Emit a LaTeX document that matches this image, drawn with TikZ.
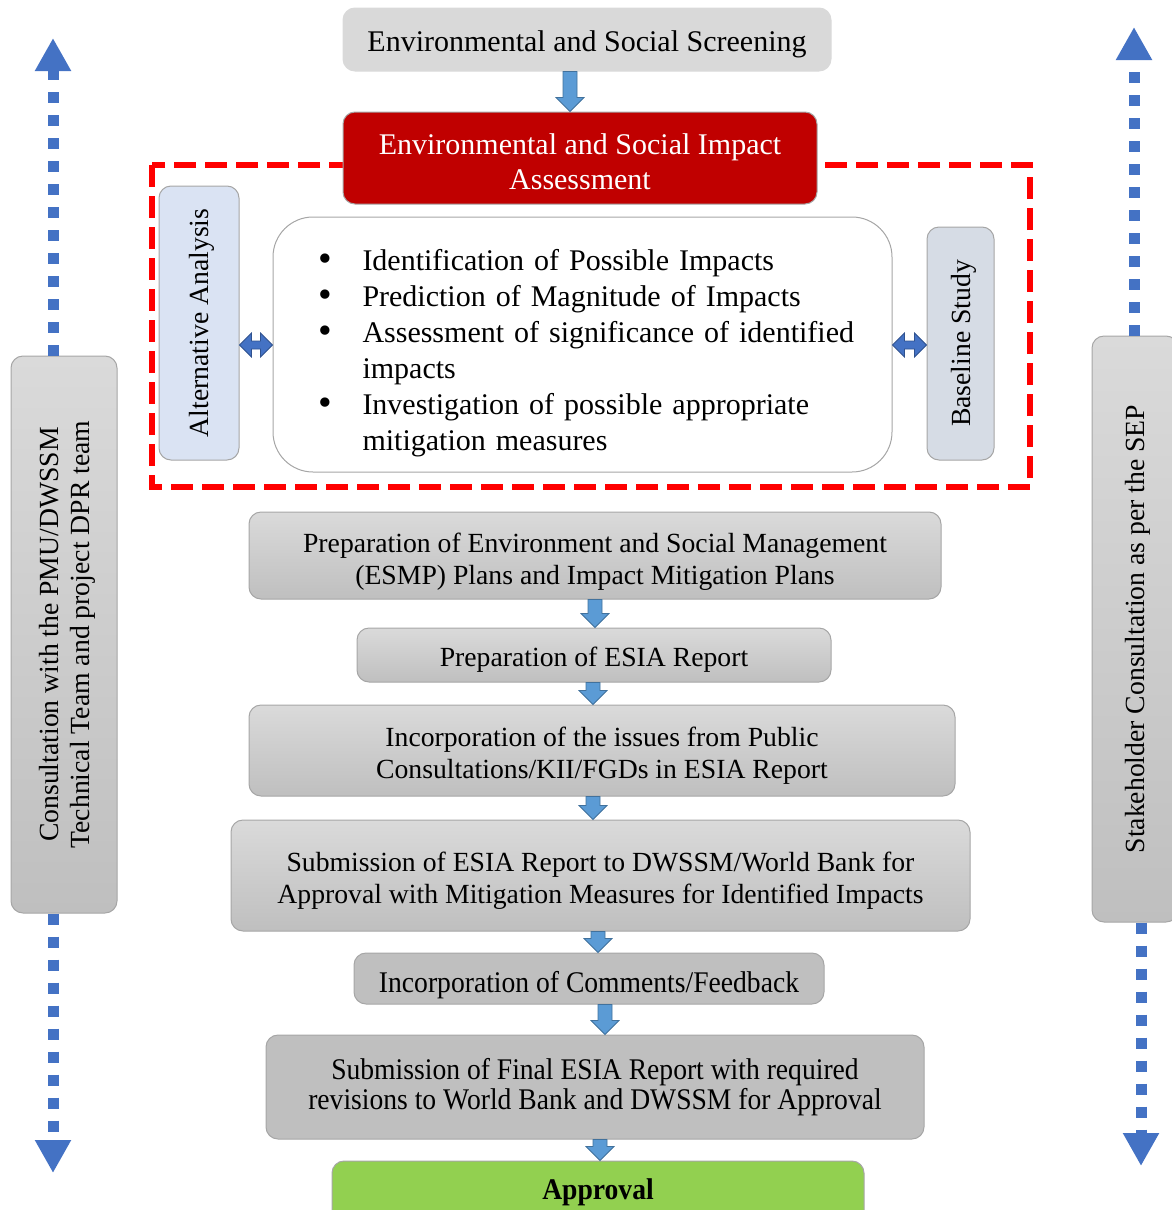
\documentclass[tikz,border=0pt]{standalone}
\usepackage{fontspec}
\usepackage{graphicx}
\setmainfont{Liberation Serif}
\newfontfamily\narrowserif[FakeStretch=0.92]{Liberation Serif}
\usetikzlibrary{calc,arrows.meta}

\definecolor{screengray}{HTML}{D9D9D9}
\definecolor{esiared}{HTML}{C00000}
\definecolor{boxedge}{HTML}{A6A6A6}
\definecolor{altblue}{HTML}{DAE3F3}
\definecolor{baseblue}{HTML}{D6DCE5}
\definecolor{steptop}{HTML}{DADADA}
\definecolor{stepbot}{HTML}{BFBFBF}
\definecolor{flatgray}{HTML}{BFBFBF}
\definecolor{okgreen}{HTML}{92D050}
\definecolor{flowblue}{HTML}{5B9BD5}
\definecolor{flowedge}{HTML}{41719C}
\definecolor{linkblue}{HTML}{4472C4}
\definecolor{linkedge}{HTML}{2F528F}

\tikzset{
  box/.style={draw=boxedge, line width=1pt, rounded corners=12pt, inner sep=0pt, align=center},
  stepbox/.style={box, top color=steptop, bottom color=stepbot,
    font=\fontsize{27.7}{32}\selectfont},
  flatbox/.style={box, fill=flatgray, font=\narrowserif\fontsize{30}{30}\selectfont},
  sidebox/.style={box, rotate=90, top color=steptop, bottom color=stepbot, text depth=0pt,
    font=\fontsize{27.7}{31}\selectfont},
  studybox/.style={box, rotate=90, text depth=-2pt, font=\fontsize{27.7}{31}\selectfont},
  flow/.style={fill=flowblue, draw=flowedge, line width=0.8pt},
  link/.style={fill=linkblue, draw=linkedge, line width=0.8pt},
  consult/.style={draw=linkblue, line width=11pt, dash pattern=on 11pt off 12pt,
    -{Triangle[width=34pt,length=33pt,fill=linkblue]}},
  esiaframe/.style={draw=red, line width=6pt, dash pattern=on 22pt off 9pt}
}

% block arrow going down at x=#1 from node #2 to node #3
\newcommand{\flowarrow}[3]{%
  \path[flow] let \p1=(#2.south), \p2=(#3.north) in
    (#1pt-7pt,\y1) -- (#1pt+7pt,\y1) -- (#1pt+7pt,\y2+14pt) -- (#1pt+14pt,\y2+14pt)
    -- (#1pt,\y2) -- (#1pt-14pt,\y2+14pt) -- (#1pt-7pt,\y2+14pt) -- cycle;}
% two-headed arrow between anchors #1 and #2 at height #3
\newcommand{\linkarrow}[3]{%
  \path[link] let \p1=(#1), \p2=(#2) in
    (\x1,-#3pt) -- (\x1+12pt,-#3pt+12pt) -- (\x1+12pt,-#3pt+4pt) -- (\x2-12pt,-#3pt+4pt)
    -- (\x2-12pt,-#3pt+12pt) -- (\x2,-#3pt) -- (\x2-12pt,-#3pt-12pt) -- (\x2-12pt,-#3pt-4pt)
    -- (\x1+12pt,-#3pt-4pt) -- (\x1+12pt,-#3pt-12pt) -- cycle;}
\newcommand{\impitem}{\hspace*{16pt}\makebox[44pt][l]{\raisebox{-1pt}{\scalebox{1.3}{\textbullet}}}}
\newcommand{\impcont}{\hspace*{60pt}}
\newcommand{\lift}[1]{\rule{0pt}{#1}}% taller first line pushes the text down

\begin{document}
\begin{tikzpicture}[x=1pt, y=-1pt, font=\fontsize{30}{32}\selectfont]
  \useasboundingbox (0,0) rectangle (1172,1210);
  \clip (0,0) rectangle (1172,1210);

  % impact assessment frame
  \draw[esiaframe] (152,165) rectangle (1030,487);

  \path
  (587,39.5) node[box, draw=screengray, fill=screengray, minimum width=488pt, minimum height=63pt] (screen)
    {\lift{30pt}Environmental and Social Screening}
  (580,158) node[box, fill=esiared, text=white, minimum width=474pt, minimum height=92pt,
    font=\fontsize{30}{35}\selectfont] (esia)
    {\lift{28.5pt}Environmental and Social Impact\\Assessment}
  (199,323) node[studybox, fill=altblue, minimum width=274pt, minimum height=80pt] (alt)
    {Alternative Analysis}
  (582.5,344.5) node[box, rounded corners=40pt, fill=white, minimum width=619pt, minimum height=255pt,
    text width=560pt, align=left, font=\fontsize{30}{36}\selectfont] (impacts)
    {\lift{38pt}\impitem Identification of Possible Impacts\\
     \impitem Prediction of Magnitude of Impacts\\
     \impitem Assessment of significance of identified\\
     \impcont impacts\\
     \impitem Investigation of possible appropriate\\
     \impcont mitigation measures}
  (960.5,343.5) node[studybox, fill=baseblue, minimum width=233pt, minimum height=67pt,
    text depth=-6pt] (base)
    {Baseline Study};

  \path
  (595,555.5) node[stepbox, minimum width=692pt, minimum height=87pt] (esmp)
    {\lift{31pt}Preparation of Environment and Social Management\\(ESMP) Plans and Impact Mitigation Plans}
  (594,655) node[stepbox, minimum width=474pt, minimum height=54pt] (report)
    {\lift{29pt}Preparation of ESIA Report}
  (602,750.5) node[stepbox, minimum width=706pt, minimum height=91pt] (issues)
    {\lift{29pt}Incorporation of the issues from Public\\Consultations/KII/FGDs in ESIA Report}
  (600.5,875.5) node[stepbox, minimum width=739pt, minimum height=111pt] (submit)
    {\lift{29pt}Submission of ESIA Report to DWSSM/World Bank for\\Approval with Mitigation Measures for Identified Impacts}
  (589,978.5) node[flatbox, minimum width=470pt, minimum height=51pt] (comments)
    {\lift{34pt}Incorporation of Comments/Feedback}
  (595,1087) node[flatbox, minimum width=658pt, minimum height=104pt] (final)
    {Submission of Final ESIA Report with required\\revisions to World Bank and DWSSM for Approval}
  (598,1192) node[box, fill=okgreen, minimum width=532pt, minimum height=62pt,
    font=\narrowserif\bfseries\fontsize{30}{30}\selectfont] (approval)
    {Approval};

  % consultation on both sides
  \path
  (64,634.5) node[sidebox, minimum width=557pt, minimum height=106pt] (pmu)
    {Consultation with the PMU/DWSSM\\Technical Team and project DPR team}
  (1135,629) node[sidebox, minimum width=586pt, minimum height=86pt] (sep)
    {Stakeholder Consultation as per the SEP};

  \coordinate (pmutop) at (53,38);
  \coordinate (pmubot) at (53,1173);
  \coordinate (septop) at (1134,27);
  \coordinate (sepbot) at (1141,1166);
  \draw[consult] (pmu.east -| pmutop) -- (pmutop);
  \draw[consult] (pmu.west -| pmubot) -- (pmubot);
  \draw[consult] (sep.east -| septop) -- (septop);
  \draw[consult] (sep.west -| sepbot) -- (sepbot);

  \flowarrow{570}{screen}{esia}
  \flowarrow{595}{esmp}{report}
  \flowarrow{593}{report}{issues}
  \flowarrow{593}{issues}{submit}
  \flowarrow{598}{submit}{comments}
  \flowarrow{605}{comments}{final}
  \flowarrow{600}{final}{approval}

  \linkarrow{alt.south}{impacts.west}{345}
  \linkarrow{impacts.east}{base.north}{345}
\end{tikzpicture}
\end{document}
